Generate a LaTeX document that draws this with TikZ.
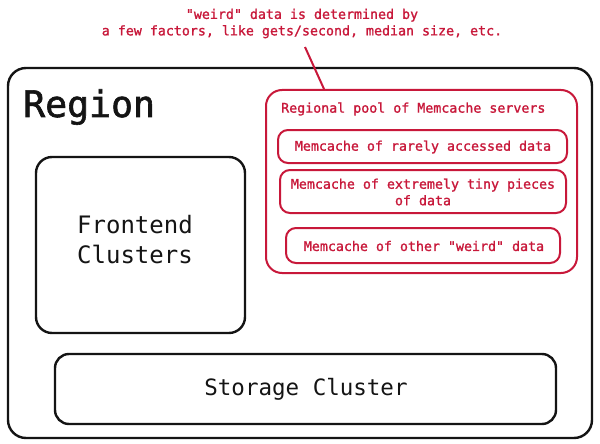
\documentclass[tikz,border=0pt]{standalone}
\usepackage{fontspec}
\setmonofont{DejaVu Sans Mono}
\newfontfamily\midmono[FakeBold=1.3]{DejaVu Sans Mono}
\newfontfamily\semimono[FakeBold=1.6]{DejaVu Sans Mono}
\usetikzlibrary{calc}
\definecolor{memred}{RGB}{200,24,58}
\definecolor{inkblack}{RGB}{20,20,20}
\tikzset{
  blackbox/.style={draw=inkblack, line width=2.4pt, rounded corners=18pt, inner sep=0pt, fill=white},
  redbox/.style={draw=memred, line width=2pt, rounded corners=10pt, inner sep=0pt},
  redtext/.style={text=memred, font=\midmono\fontsize{13.3}{16.5}\selectfont, align=center, inner sep=0pt},
  blacktext/.style={text=inkblack, font=\ttfamily\fontsize{24}{30}\selectfont, align=center, inner sep=0pt},
  redline/.style={draw=memred, line width=2pt}
}
\begin{document}
\begin{tikzpicture}[x=1pt,y=-1pt]
\useasboundingbox (0,0) rectangle (600,444);
\fill[white] (0,0) rectangle (600,444);
% region
\node[blackbox, minimum width=584pt, minimum height=370pt] (region) at (300,253) {};
\node[anchor=base west, text=inkblack, font=\semimono\fontsize{36.5}{40}\selectfont, inner sep=0pt] (regionlabel) at (23,117) {Region};
% frontend
\node[blackbox, rounded corners=16pt, minimum width=209pt, minimum height=176pt] (frontend) at (140.5,245) {};
\node[blacktext] (frontendlabel) at (135,240) {Frontend\\Clusters};
% storage
\node[blackbox, rounded corners=14pt, minimum width=501pt, minimum height=70pt] (storage) at (305.5,389) {};
\node[blacktext, font=\ttfamily\fontsize{22.5}{30}\selectfont] (storagelabel) at (306,389) {Storage Cluster};
% pool
\node[redbox, rounded corners=16pt, minimum width=311pt, minimum height=183pt] (pool) at (421.5,181.5) {};
\node[redtext, anchor=west] (poollabel) at (281,109) {Regional pool of Memcache servers};
\node[redbox, minimum width=289pt, minimum height=33pt] (rare) at (422.5,146.5) {};
\node[redtext] (rarelabel) at (423,147) {Memcache of rarely accessed data};
\node[redbox, minimum width=286pt, minimum height=43pt] (tiny) at (423,191.5) {};
\node[redtext] (tinylabel) at (423,192) {Memcache of extremely tiny pieces\\of data};
\node[redbox, minimum width=274pt, minimum height=35pt] (weird) at (423,245.5) {};
\node[redtext] (weirdlabel) at (424,246) {Memcache of other "weird" data};
% annotation
\node[redtext] (note) at (302,23.5) {"weird" data is determined by\\a few factors, like gets/second, median size, etc.};
\coordinate (notefoot) at (305,47);
\coordinate (poolhead) at ($(pool.north west)+(59,0)$);
\draw[redline] (notefoot) -- (poolhead);
\end{tikzpicture}
\end{document}
